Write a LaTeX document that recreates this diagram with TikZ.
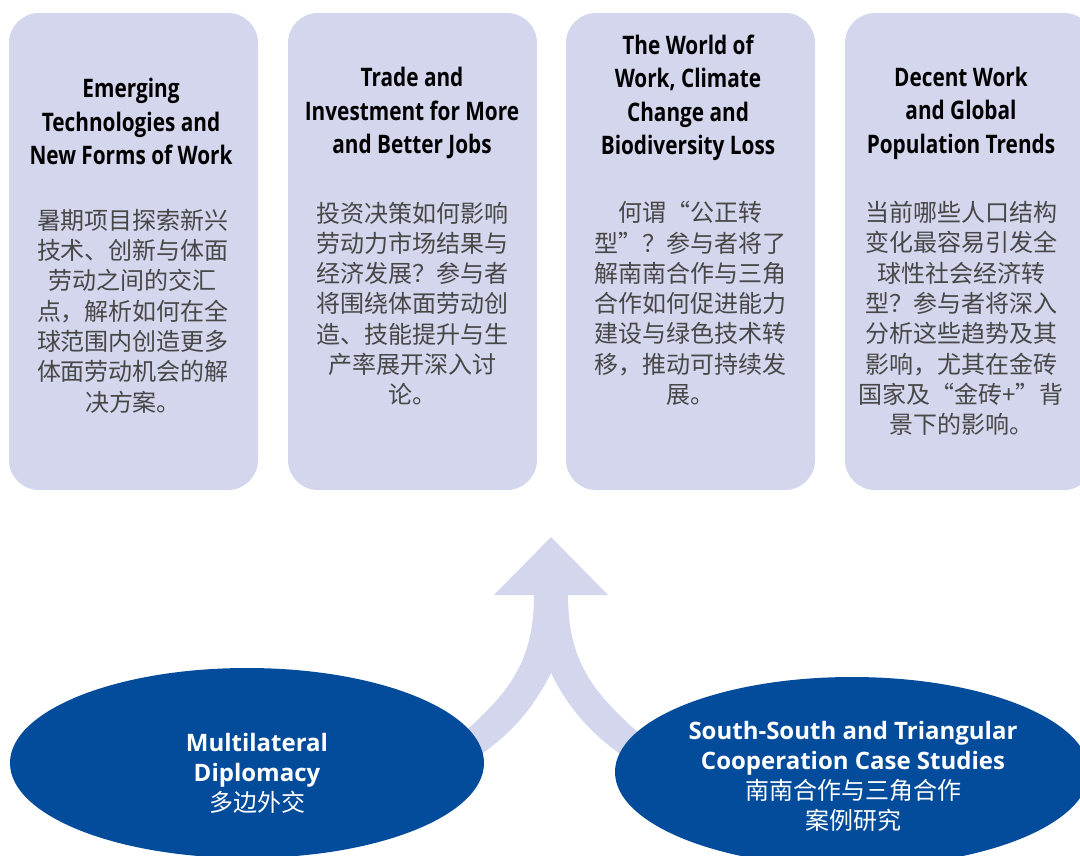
\documentclass[tikz,border=0pt]{standalone}
\usepackage{fontspec}
\usetikzlibrary{shapes.geometric}
\newfontfamily\headfont[FakeStretch=0.815]{Open Sans}
\newfontfamily\ovalfont{Open Sans}
\newfontfamily\cjk{Noto Sans CJK SC}
\definecolor{lav}{HTML}{D3D6EC}
\definecolor{ilo}{HTML}{034B9B}
\definecolor{txt}{HTML}{474747}
\tikzset{card/.style={rectangle,rounded corners=30pt,fill=lav,minimum width=249pt,minimum height=477pt,inner sep=0pt},
  head/.style={align=center,inner sep=0pt,font=\headfont\bfseries\fontsize{25.5}{33.5}\selectfont},
  body/.style={align=center,inner sep=0pt,text=txt,font=\cjk\fontsize{24}{30.3}\selectfont},
  oval/.style={ellipse,fill=ilo,minimum width=474pt,minimum height=190pt,inner sep=0pt},
  ovaltxt/.style={align=center,inner sep=0pt,text=white,font=\ovalfont\bfseries\fontsize{24}{30}\selectfont}}

\begin{document}
\begin{tikzpicture}[x=1pt,y=-1pt]
  \useasboundingbox (0,0) rectangle (1080,855);
  \clip (0,0) rectangle (1080,855);
  % four topic cards
  \node[card] (c1) at (133.5,251.5){};\node[card] (c2) at (412.5,251.5){};
  \node[card] (c3) at (690.5,251.5){};\node[card] (c4) at (969.5,251.5){};
  \node[head] (t1) at (131,121.5) {Emerging\\Technologies and\\New Forms of Work};
  \node[head] (t2) at (412,113) {Trade and\\Investment for More\\and Better Jobs};
  \node[head] (t3) at (688,98) {The World of\\Work, Climate\\Change and\\Biodiversity Loss};
  \node[head] (t4) at (961,113) {Decent Work\\and Global\\Population Trends};
  \node[body] (b1) at (133,311) {暑期项目探索新兴\\技术、创新与体面\\劳动之间的交汇\\点，解析如何在全\\球范围内创造更多\\体面劳动机会的解\\决方案。};
  \node[body] (b2) at (412,303.5) {投资决策如何影响\\劳动力市场结果与\\经济发展？参与者\\将围绕体面劳动创\\造、技能提升与生\\产率展开深入讨\\论。};
  \node[body] (b3) at (690,303.5) {何谓“公正转\\型”？参与者将了\\解南南合作与三角\\合作如何促进能力\\建设与绿色技术转\\移，推动可持续发\\展。};
  \node[body] (b4) at (961,318.5) {当前哪些人口结构\\变化最容易引发全\\球性社会经济转\\型？参与者将深入\\分析这些趋势及其\\影响，尤其在金砖\\国家及“金砖+”背\\景下的影响。};
  % merging arrow
  \fill[lav] (551,537) -- (608,595) -- (568,595) .. controls (568,660) and (592,690) .. (632,727)
    -- (655,748) -- (630,772) -- (619,753) .. controls (587,730) and (567,705) .. (551,673)
    .. controls (535,705) and (515,730) .. (483,753) -- (470,768) -- (447,748)
    -- (470,727) .. controls (510,690) and (534,660) .. (534,595) -- (494,595) -- cycle;
  % two sources
  \node[oval] (md) at (247,763){};
  \node[oval] (ss) at (852,772){};
  \node[ovaltxt] (mdl) at (257,773) {Multilateral\\Diplomacy\\\cjk\mdseries 多边外交};
  \node[ovaltxt] (ssl) at (853,776) {South-South and Triangular\\Cooperation Case Studies\\\cjk\mdseries 南南合作与三角合作\\\cjk\mdseries 案例研究};
\end{tikzpicture}
\end{document}
